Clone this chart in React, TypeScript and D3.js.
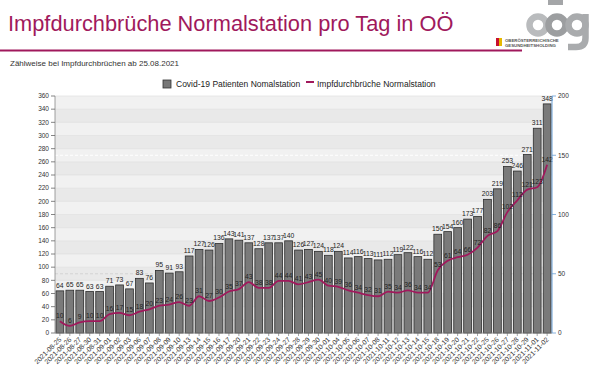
import React from "react";
import * as d3 from "d3";

const dates = [
  "2021-08-25","2021-08-26","2021-08-27","2021-08-30","2021-08-31",
  "2021-09-01","2021-09-02","2021-09-03","2021-09-06","2021-09-07","2021-09-08","2021-09-09","2021-09-10",
  "2021-09-13","2021-09-14","2021-09-15","2021-09-16","2021-09-17",
  "2021-09-20","2021-09-21","2021-09-22","2021-09-23","2021-09-24",
  "2021-09-27","2021-09-28","2021-09-29","2021-09-30",
  "2021-10-01","2021-10-04","2021-10-05","2021-10-06","2021-10-07",
  "2021-10-08","2021-10-11","2021-10-12","2021-10-13","2021-10-14",
  "2021-10-15","2021-10-18","2021-10-19","2021-10-20","2021-10-21",
  "2021-10-22","2021-10-25","2021-10-26","2021-10-27","2021-10-28",
  "2021-10-29","2021-11-01","2021-11-02",
];
const patients = [
  64,65,65,63,63, 71,73,67,83,76,95,91,93, 117,127,126,136,143,
  141,137,128,137,137, 140,126,127,124, 118,124,114,116,113,
  111,112,119,122,116, 112,150,154,160,173, 177,203,219,253,246,
  271,311,348,
];
const breakthroughs = [
  10,6,9,10,10, 16,17,15,18,20,23,24,26, 23,31,27,30,35,
  37,43,38,38,44, 44,41,43,45, 40,39,36,34,32,
  31,35,34,36,34, 34,53,61,64,66, 72,82,86,102,112,
  121,123,142,
];
const leftTicks = d3.range(0, 361, 20);
const rightTicks = [0, 50, 100, 150, 200];

const W = 599, H = 377;
const M = { l: 55, r: 552, t: 96, b: 333 };
const magenta = "#a0195c";
const font = "Liberation Sans, Arial, sans-serif";

export default function App() {
  const x = d3.scaleBand<string>().domain(dates).range([M.l, M.r]).paddingInner(0.22).paddingOuter(0.1);
  const yL = d3.scaleLinear().domain([0, 360]).range([M.b, M.t]);
  const yR = d3.scaleLinear().domain([0, 200]).range([M.b, M.t]);
  const line = d3.line<number>()
    .x((_, i) => (x(dates[i]) as number) + x.bandwidth() / 2)
    .y((d) => yR(d))
    .curve(d3.curveMonotoneX);

  const bands = leftTicks.slice(0, -1).map((t, i) => ({ t, i }));

  return (
    <svg width={W} height={H} style={{ position: "absolute", left: 0, top: 0, background: "#fff" }} fontFamily={font}>
      <rect width={W} height={H} fill="#fff" />
      {/* header */}
      <text x={8} y={31} fontSize={21.8} fill={magenta}>Impfdurchbrüche Normalstation pro Tag in OÖ</text>
      <line x1={0} x2={522} y1={50.5} y2={50.5} stroke={magenta} strokeWidth={2} />
      <text x={10} y={66} fontSize={8} fill="#333">Zählweise bei Impfdurchbrüchen ab 25.08.2021</text>
      {/* logo */}
      <g fill="none">
        <circle cx={538} cy={25} r={8.5} stroke="#b9bbbd" strokeWidth={6.5} />
        <circle cx={557} cy={25} r={8.5} stroke="#9c9ea0" strokeWidth={6.5} />
        <rect x={548} y={0} width={15} height={5} fill="#a4a6a8" />
        <circle cx={577} cy={25} r={8.5} stroke="#a9abad" strokeWidth={6.5} />
        <path d="M585.5,14 L585.5,38 Q585.5,47 576,47 L568,47" stroke="#a9abad" strokeWidth={6.5} />
      </g>
      <rect x={496} y={38} width={3} height={8} fill="#c8102e" />
      <rect x={499} y={38} width={3} height={8} fill="#e6b800" />
      <text x={505} y={41.5} fontSize={4.3} fill="#555" fontWeight="bold">OBERÖSTERREICHISCHE</text>
      <text x={505} y={46.5} fontSize={4.3} fill="#555" fontWeight="bold">GESUNDHEITSHOLDING</text>
      {/* legend */}
      <rect x={163} y={80} width={8} height={8} fill="#777" stroke="#333" strokeWidth={0.8} />
      <text x={176} y={87} fontSize={8.5} fill="#222">Covid-19 Patienten Nomalstation</text>
      <line x1={306} x2={314} y1={82} y2={82} stroke={magenta} strokeWidth={2} />
      <text x={317} y={87} fontSize={8.5} fill="#222">Impfdurchbrüche Normalstation</text>
      {/* plot bg bands */}
      {bands.map(({ t, i }) => (
        <rect key={t} x={M.l} width={M.r - M.l} y={yL(t + 20)} height={yL(t) - yL(t + 20)}
          fill={i % 2 === 0 ? "#e9e9e9" : "#f1f1f1"} />
      ))}
      {leftTicks.map((t) => (
        <line key={t} x1={M.l} x2={M.r} y1={yL(t)} y2={yL(t)} stroke="#dcdcdc" strokeWidth={0.6} />
      ))}
      <line x1={M.l} x2={M.r} y1={yL(270)} y2={yL(270)} stroke="#fff" strokeWidth={1} strokeDasharray="3,2" />
      <line x1={M.l} x2={M.r} y1={yL(90)} y2={yL(90)} stroke="#cfcfcf" strokeWidth={0.8} strokeDasharray="3,2" />
      {/* bars */}
      {patients.map((v, i) => (
        <rect key={i} x={x(dates[i])} y={yL(v)} width={x.bandwidth()} height={yL(0) - yL(v)}
          fill="#7a7a7a" stroke="#2e2e2e" strokeWidth={0.8} />
      ))}
      {/* bar labels */}
      {patients.map((v, i) => (
        <text key={i} x={(x(dates[i]) as number) + x.bandwidth() / 2} y={yL(v) - 3}
          fontSize={6.8} textAnchor="middle" fill="#222">{v}</text>
      ))}
      {/* line */}
      <path d={line(breakthroughs) || ""} fill="none" stroke={magenta} strokeWidth={1.8} />
      {breakthroughs.map((v, i) => (
        <text key={i} x={(x(dates[i]) as number) + x.bandwidth() / 2} y={yR(v) - 3}
          fontSize={6.8} textAnchor="middle" fill="#222">{v}</text>
      ))}
      {/* left axis */}
      <line x1={M.l} x2={M.l} y1={M.t} y2={M.b} stroke="#888" strokeWidth={0.8} />
      {leftTicks.map((t) => (
        <g key={t}>
          <line x1={M.l - 4} x2={M.l} y1={yL(t)} y2={yL(t)} stroke="#666" strokeWidth={0.8} />
          <text x={M.l - 6} y={yL(t) + 2.3} fontSize={6.5} textAnchor="end" fill="#333">{t}</text>
        </g>
      ))}
      {/* right axis */}
      <line x1={M.r} x2={M.r} y1={M.t} y2={M.b} stroke="#6a9fd4" strokeWidth={1} />
      {rightTicks.map((t) => (
        <g key={t}>
          <line x1={M.r} x2={M.r + 4} y1={yR(t)} y2={yR(t)} stroke="#6a9fd4" strokeWidth={0.8} />
          <text x={M.r + 6} y={yR(t) + 2.3} fontSize={6.5} fill="#333">{t}</text>
        </g>
      ))}
      {/* x axis */}
      <line x1={M.l} x2={M.r} y1={M.b} y2={M.b} stroke="#888" strokeWidth={0.8} />
      {dates.map((d) => {
        const cx = (x(d) as number) + x.bandwidth() / 2;
        return (
          <g key={d}>
            <line x1={cx} x2={cx} y1={M.b} y2={M.b + 3} stroke="#666" strokeWidth={0.6} />
            <text transform={`translate(${cx + 2},${M.b + 7}) rotate(-45)`} fontSize={6.8} textAnchor="end" fill="#333">{d}</text>
          </g>
        );
      })}
    </svg>
  );
}
